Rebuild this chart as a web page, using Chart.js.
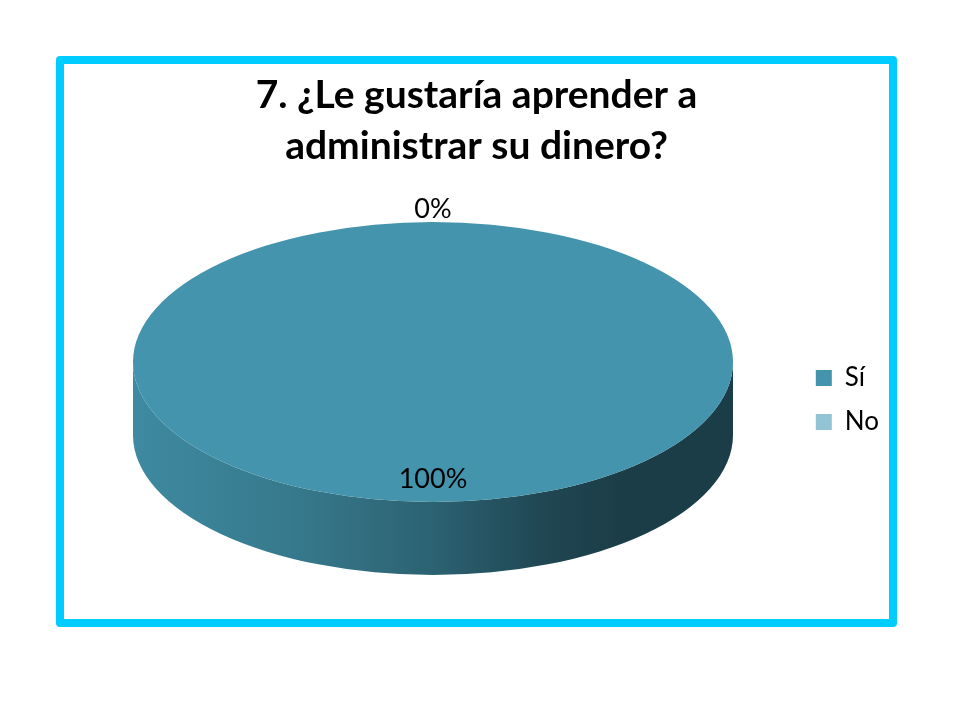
<!DOCTYPE html>
<html>
<head>
<meta charset="utf-8">
<script src="https://cdn.jsdelivr.net/npm/chart.js@4.4.1/dist/chart.umd.min.js"></script>
<style>
  html, body { margin: 0; background: #fff; }
  #frame {
    position: absolute; left: 56px; top: 56px;
    width: 841px; height: 571px; box-sizing: border-box;
    border: 8px solid #00ccff; border-radius: 4px;
  }
  #chart { display: block; }
</style>
</head>
<body>
<div id="frame"><canvas id="chart" width="825" height="555"></canvas></div>
<script>
const categories = ['Sí', 'No'];
const values = [100, 0];
const sliceColors = ['#4394ac', '#93c4d5'];
const titleLines = ['7. ¿Le gustaría aprender a', 'administrar su dinero?'];

// tilted pie placement on the canvas (ellipse + wall height)
const PIE = { cx: 369, cy: 298, rx: 300, ry: 140, depth: 73 };

const shade = (hex, f) => {
    const n = parseInt(hex.slice(1), 16);
    const r = Math.round(((n >> 16) & 255) * f);
    const g = Math.round(((n >> 8) & 255) * f);
    const b = Math.round((n & 255) * f);
    return `rgb(${r},${g},${b})`;
};

// part of an arc that lies on the front (0..PI) side
const frontPart = (s, e) => {
    const out = [];
    for (const k of [-2, 0, 2]) {
        const lo = Math.max(s, k * Math.PI), hi = Math.min(e, k * Math.PI + Math.PI);
        if (hi > lo) out.push([lo, hi]);
    }
    return out;
};

const tiltedPie = {
    id: 'tiltedPie',
    beforeDatasetsDraw(chart) {
        const ctx = chart.ctx;
        const arcs = chart.getDatasetMeta(0).data;

        // 1. side wall
        arcs.forEach(arc => {
            const c = arc.options.backgroundColor;
            frontPart(arc.startAngle, arc.endAngle).forEach(([a1, a2]) => {
                const g = ctx.createLinearGradient(PIE.cx - PIE.rx, 0, PIE.cx + PIE.rx, 0);
                g.addColorStop(0, shade(c, 0.93));
                g.addColorStop(0.28, shade(c, 0.81));
                g.addColorStop(0.5, shade(c, 0.66));
                g.addColorStop(0.68, shade(c, 0.48));
                g.addColorStop(0.82, shade(c, 0.41));
                g.addColorStop(1, shade(c, 0.41));
                ctx.beginPath();
                ctx.ellipse(PIE.cx, PIE.cy, PIE.rx, PIE.ry, 0, a1, a2);
                ctx.ellipse(PIE.cx, PIE.cy + PIE.depth, PIE.rx, PIE.ry, 0, a2, a1, true);
                ctx.closePath();
                ctx.fillStyle = g;
                ctx.fill();
            });
        });

        // 2. squash the library's circle into the top ellipse
        const a = arcs[0];
        ctx.save();
        ctx.translate(PIE.cx, PIE.cy);
        ctx.scale(PIE.rx / a.outerRadius, PIE.ry / a.outerRadius);
        ctx.translate(-a.x, -a.y);
    },
    afterDatasetsDraw(chart) {
        const ctx = chart.ctx;
        ctx.restore();

        // 3. percentage labels
        const arcs = chart.getDatasetMeta(0).data;
        const total = values.reduce((s, v) => s + v, 0);
        ctx.save();
        ctx.font = '27px Lato';
        ctx.fillStyle = '#000';
        ctx.textAlign = 'center';
        ctx.textBaseline = 'middle';
        arcs.forEach((arc, i) => {
            const pct = Math.round(values[i] / total * 100);
            const mid = (arc.startAngle + arc.endAngle) / 2;
            const f = pct > 0 ? 0.84 : 1.09;
            ctx.fillText(pct + '%', PIE.cx + Math.cos(mid) * PIE.rx * f, PIE.cy + Math.sin(mid) * PIE.ry * f);
        });
        ctx.restore();
    }
};

new Chart(document.getElementById('chart'), {
    type: 'pie',
    data: {
        labels: categories,
        datasets: [{
            data: values,
            backgroundColor: sliceColors,
            borderWidth: 0
        }]
    },
    options: {
        responsive: false,
        animation: false,
        events: [],
        plugins: {
            title: {
                display: true,
                text: titleLines,
                color: '#000',
                font: { family: 'Lato', size: 39, weight: 'bold', lineHeight: 1.31 },
                padding: { top: 6, bottom: 10 }
            },
            legend: {
                position: 'right',
                // empty title only to push the entries down
                title: { display: true, text: '', font: { size: 1 }, padding: { top: 116, bottom: 0 } },
                labels: {
                    color: '#000',
                    font: { family: 'Lato', size: 26 },
                    boxWidth: 16,
                    boxHeight: 16,
                    padding: 18
                }
            },
            tooltip: { enabled: false }
        }
    },
    plugins: [tiltedPie]
});
</script>
</body>
</html>
